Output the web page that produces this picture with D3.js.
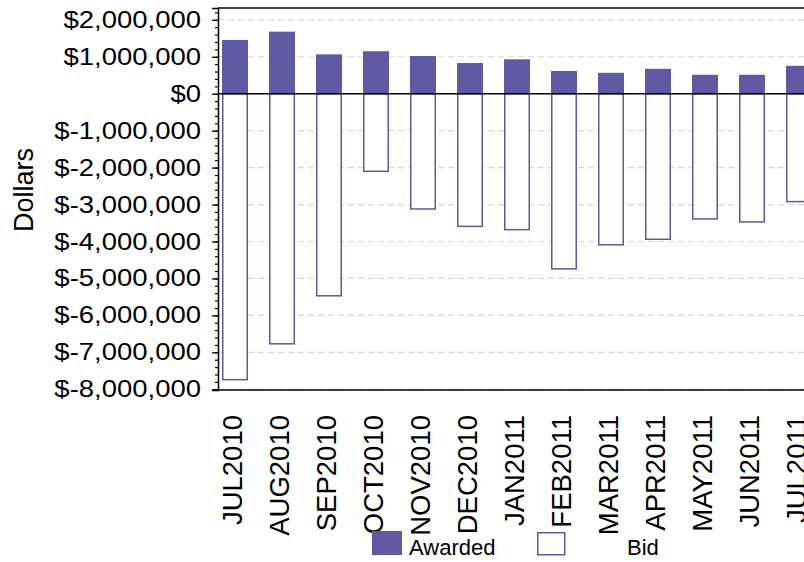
<!DOCTYPE html>
<html>
<head>
    <meta charset="utf-8">
    <title>Awarded vs Bid</title>
    <script src="https://d3js.org/d3.v7.min.js"></script>
    <style>
        html, body {
            margin: 0;
            padding: 0;
            background: #fff;
        }

        svg {
            display: block;
            font-family: "Liberation Sans", Arial, sans-serif;
        }
    </style>
</head>
<body>
    <svg id="chart" width="804" height="562"></svg>
    <script>
        // data (dollars)
        var months = ["JUL2010", "AUG2010", "SEP2010", "OCT2010", "NOV2010", "DEC2010", "JAN2011",
            "FEB2011", "MAR2011", "APR2011", "MAY2011", "JUN2011", "JUL2011"];
        var awarded = [1455000, 1680000, 1065000, 1150000, 1020000, 830000, 930000,
            615000, 566000, 674000, 512000, 512000, 755000];
        var bid = [-7740000, -6770000, -5470000, -2100000, -3120000, -3590000, -3680000,
            -4740000, -4090000, -3940000, -3390000, -3470000, -2920000];
        var yTicks = [2000000, 1000000, 0, -1000000, -2000000, -3000000, -4000000,
            -5000000, -6000000, -7000000, -8000000];
        var seriesNames = ["Awarded", "Bid"];

        var purple = "#5f58a3";
        var svg = d3.select("#chart");

        // plot edges (note: "top" is taken by window.top)
        var pLeft = 218, pTop = 8, pBottom = 390, pRight = 830;

        var x = d3.scaleBand()
            .domain(months)
            .range([211.5, 822.5])
            .paddingInner(0.447)
            .paddingOuter(0.2235);

        var y = d3.scaleLinear()
            .domain([-8020000, 2320000])
            .range([pBottom, pTop]);

        // SAS style: $-1,000,000 with a plain hyphen
        var fmt = function (d) {
            return "$" + (d < 0 ? "-" : "") + d3.format(",")(Math.abs(d));
        };

        // grid
        svg.append("g")
            .selectAll("line")
            .data(yTicks.filter(function (d) { return d !== 0; }))
            .join("line")
            .attr("x1", pLeft)
            .attr("x2", pRight)
            .attr("y1", function (d) { return y(d); })
            .attr("y2", function (d) { return y(d); })
            .attr("stroke", "#d8d8d8")
            .attr("stroke-width", 1.2)
            .attr("stroke-dasharray", "6,4");

        // awarded bars
        svg.append("g")
            .selectAll("rect")
            .data(awarded)
            .join("rect")
            .attr("x", function (d, i) { return x(months[i]); })
            .attr("width", x.bandwidth())
            .attr("y", function (d) { return y(d); })
            .attr("height", function (d) { return y(0) - y(d); })
            .attr("fill", purple);

        // bid bars
        svg.append("g")
            .selectAll("rect")
            .data(bid)
            .join("rect")
            .attr("x", function (d, i) { return x(months[i]) + 0.75; })
            .attr("width", x.bandwidth() - 1.5)
            .attr("y", y(0))
            .attr("height", function (d) { return y(d) - y(0); })
            .attr("fill", "#fff")
            .attr("stroke", purple)
            .attr("stroke-width", 1.5);

        // zero line
        svg.append("line")
            .attr("x1", pLeft).attr("x2", pRight)
            .attr("y1", y(0)).attr("y2", y(0))
            .attr("stroke", "#000").attr("stroke-width", 1.5);

        // frame top / bottom
        svg.append("line")
            .attr("x1", pLeft).attr("x2", pRight)
            .attr("y1", pTop).attr("y2", pTop)
            .attr("stroke", "#000").attr("stroke-width", 1.5);
        svg.append("line")
            .attr("x1", pLeft).attr("x2", pRight)
            .attr("y1", pBottom).attr("y2", pBottom)
            .attr("stroke", "#000").attr("stroke-width", 1.5);

        // minor ticks
        svg.append("g")
            .attr("transform", "translate(" + pLeft + ",0)")
            .call(d3.axisLeft(y).tickValues(d3.range(-8000000, 2320001, 200000)).tickSize(3).tickFormat(""))
            .call(function (g) { g.select(".domain").remove(); })
            .selectAll("line").attr("stroke-width", 1.2);

        // y axis
        var yAxis = svg.append("g")
            .attr("transform", "translate(" + pLeft + ",0)")
            .call(d3.axisLeft(y).tickValues(yTicks).tickSize(6).tickPadding(9).tickFormat(fmt));
        yAxis.select(".domain").attr("stroke-width", 1.5);
        yAxis.selectAll("line").attr("stroke-width", 1.3);
        yAxis.selectAll("text")
            .attr("font-size", 23.5)
            .attr("font-family", "Liberation Sans, Arial, sans-serif")
            .attr("fill", "#000")
            .attr("transform", "scale(1.17,1)")
            .attr("x", -14.5);

        // x labels
        svg.append("g")
            .selectAll("text")
            .data(months)
            .join("text")
            .attr("transform", function (d) {
                return "translate(" + (x(d) + x.bandwidth() / 2 + 7) + ",415) rotate(-90)";
            })
            .attr("text-anchor", "end")
            .attr("font-size", 27.5)
            .attr("fill", "#000")
            .text(function (d) { return d; });

        // y title
        svg.append("text")
            .attr("transform", "translate(33,190) rotate(-90)")
            .attr("text-anchor", "middle")
            .attr("font-size", 27)
            .attr("fill", "#000")
            .text("Dollars");

        // legend
        var legend = svg.append("g");
        legend.append("rect")
            .attr("x", 372).attr("y", 531).attr("width", 30).attr("height", 24)
            .attr("fill", purple);
        legend.append("text")
            .attr("x", 409).attr("y", 555)
            .attr("font-size", 22).attr("fill", "#000")
            .text(seriesNames[0]);
        legend.append("rect")
            .attr("x", 537.75).attr("y", 532.75).attr("width", 27).attr("height", 22)
            .attr("fill", "#fff").attr("stroke", purple).attr("stroke-width", 1.5);
        legend.append("text")
            .attr("x", 627).attr("y", 555)
            .attr("font-size", 22).attr("fill", "#000")
            .text(seriesNames[1]);
    </script>
</body>
</html>
